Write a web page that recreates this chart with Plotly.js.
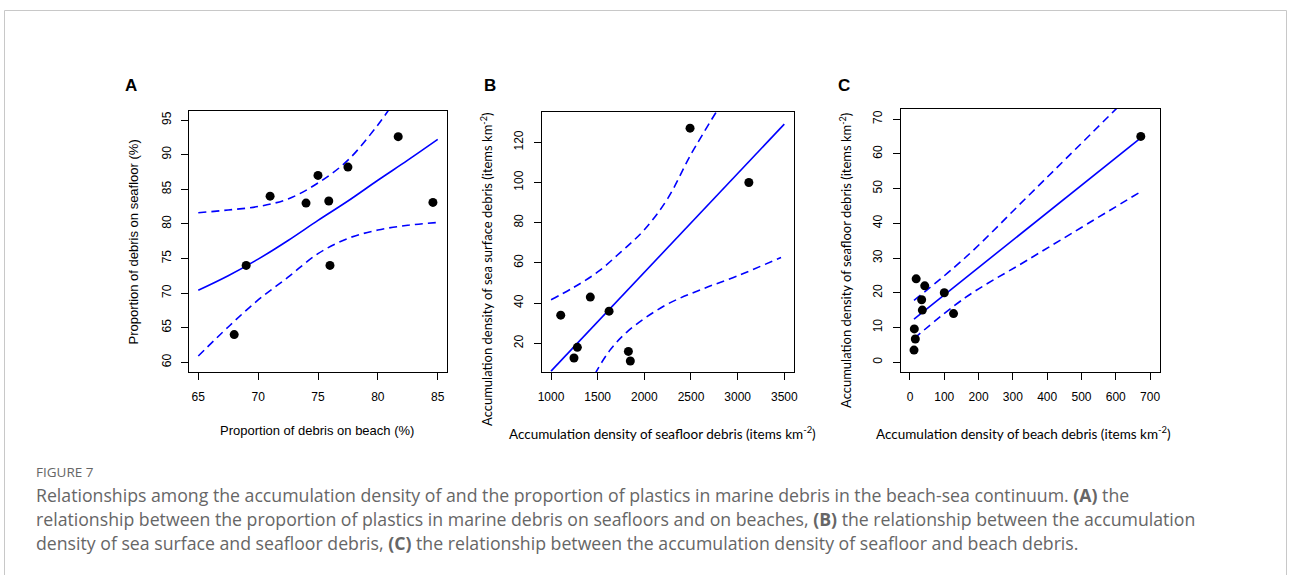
<!DOCTYPE html>
<html>
<head>
<meta charset="utf-8">
<script src="https://cdn.plot.ly/plotly-3.0.1.min.js"></script>
<style>html,body{margin:0;padding:0;background:#fff;}#chart{width:1290px;height:575px;}</style>
</head>
<body>
<div id="chart"></div>
<script>
// ---- Panel A: proportion of plastics (%) ----
const aBeach    = [68, 69, 71, 74, 75, 75.9, 76, 77.5, 81.7, 84.6];
const aSeafloor = [64, 74, 84, 83, 87, 83.3, 74, 88.2, 92.6, 83.1];
const aFitX   = [65, 67.5, 70, 72.5, 75, 77.5, 80, 82.5, 85];
const aFitY   = [70.4, 72.5, 74.9, 77.6, 80.5, 83.3, 86.3, 89.2, 92.2];
const aUpperX = [65, 67.5, 70, 72.5, 75, 77.5, 80, 81];
const aUpperY = [81.6, 82.0, 82.5, 83.6, 85.9, 89.2, 94.3, 96.7];
const aLowerX = [65, 67.5, 70, 72.5, 75, 77.5, 80, 82.5, 85];
const aLowerY = [60.9, 65.1, 69.0, 72.3, 75.7, 77.9, 79.1, 79.8, 80.2];
const aXTicks = [65, 70, 75, 80, 85];
const aYTicks = [60, 65, 70, 75, 80, 85, 90, 95];

// ---- Panel B: sea surface vs seafloor density ----
const bSeafloor = [1104, 1246, 1282, 1421, 1622, 1829, 1850, 2490, 3120];
const bSurface  = [34, 12.7, 18, 43, 36, 16, 11.2, 127, 100];
const bFitX   = [1000, 3500];
const bFitY   = [6.2, 129];
const bUpperX = [1000, 1250, 1500, 1750, 2000, 2250, 2500, 2770];
const bUpperY = [41.7, 48, 55.5, 65.5, 76.5, 92, 114, 135];
const bLowerX = [1470, 1630, 1830, 2220, 2600, 3000, 3465];
const bLowerY = [4.7, 16.5, 26.3, 38.8, 46.6, 53.6, 62.7];
const bXTicks = [1000, 1500, 2000, 2500, 3000, 3500];
const bYTicks = [20, 40, 60, 80, 100, 120];

// ---- Panel C: seafloor vs beach density ----
const cBeach    = [18, 43, 34, 36, 100, 127, 12.6, 15.5, 11.7, 673];
const cSeafloor = [24, 22, 18, 15, 20, 14, 9.6, 6.7, 3.5, 65];
const cFitX   = [11.7, 673];
const cFitY   = [12.4, 64.6];
const cUpperX = [11.7, 160, 344, 610];
const cUpperY = [17.8, 30.0, 47.8, 73.8];
const cLowerX = [11.7, 160, 344, 673];
const cLowerY = [6.8, 18.5, 29.5, 49.1];
const cXTicks = [0, 100, 200, 300, 400, 500, 600, 700];
const cYTicks = [0, 10, 20, 30, 40, 50, 60, 70];

const W = 1290, H = 575;
const px = x => x / W;
const py = y => 1 - y / H;
const BLUE = '#0000ff';
const TICKFONT = {family: 'Liberation Sans, Arial, sans-serif', size: 12, color: '#000'};

function panelTraces(xa, ya, ptsX, ptsY, fx, fy, ux, uy, lx, ly) {
  return [
    {x: fx, y: fy, xaxis: xa, yaxis: ya, type: 'scatter', mode: 'lines', line: {color: BLUE, width: 1.6}, hoverinfo: 'skip'},
    {x: ux, y: uy, xaxis: xa, yaxis: ya, type: 'scatter', mode: 'lines', line: {color: BLUE, width: 1.6, dash: '8px,5px', shape: 'spline'}, hoverinfo: 'skip'},
    {x: lx, y: ly, xaxis: xa, yaxis: ya, type: 'scatter', mode: 'lines', line: {color: BLUE, width: 1.6, dash: '8px,5px', shape: 'spline'}, hoverinfo: 'skip'},
    {x: ptsX, y: ptsY, xaxis: xa, yaxis: ya, type: 'scatter', mode: 'markers', marker: {color: '#000', size: 9}, cliponaxis: false}
  ];
}

const data = [].concat(
  panelTraces('x', 'y', aBeach, aSeafloor, aFitX, aFitY, aUpperX, aUpperY, aLowerX, aLowerY),
  panelTraces('x2', 'y2', bSeafloor, bSurface, bFitX, bFitY, bUpperX, bUpperY, bLowerX, bLowerY),
  panelTraces('x3', 'y3', cBeach, cSeafloor, cFitX, cFitY, cUpperX, cUpperY, cLowerX, cLowerY)
);
data[0].line.shape = 'spline';

function axis(domain, range, ticks, anchor, isY) {
  return {
    domain: domain, range: range, anchor: anchor,
    showline: true, linecolor: '#000', linewidth: 1, mirror: true,
    ticks: 'outside', ticklen: 7, tickcolor: '#000', tickwidth: 1,
    tickmode: 'array', tickvals: ticks, ticktext: ticks.map(String),
    showgrid: false, zeroline: false, tickfont: TICKFONT,
    tickangle: isY ? -90 : 0, ticklabelstandoff: 6,
    fixedrange: true
  };
}

const layout = {
  width: W, height: H,
  margin: {l: 0, r: 0, t: 0, b: 0},
  paper_bgcolor: '#fff', plot_bgcolor: '#fff',
  showlegend: false,
  xaxis:  axis([px(189.3), px(446.7)], [64.25, 85.75], aXTicks, 'y', false),
  yaxis:  axis([py(372.3), py(110.7)], [58.55, 96.35], aYTicks, 'x', true),
  xaxis2: axis([px(541.7), px(794)], [900, 3604], bXTicks, 'y2', false),
  yaxis2: axis([py(372.3), py(112.3)], [5.6, 134.9], bYTicks, 'x2', true),
  xaxis3: axis([px(900.7), px(1160)], [-27.1, 729], cXTicks, 'y3', false),
  yaxis3: axis([py(372.3), py(109)], [-2.9, 72.9], cYTicks, 'x3', true),
  shapes: [
    {type: 'rect', xref: 'paper', yref: 'paper', x0: px(4.5), x1: px(1286.5), y0: py(600), y1: py(10.5),
     line: {color: '#c8c8c8', width: 1}, fillcolor: 'rgba(0,0,0,0)', layer: 'below'}
  ],
  annotations: []
};

const AF = 'Liberation Sans, Arial, sans-serif';
const LF = 'Lato, Carlito, sans-serif';
function ann(text, x, y, opts) {
  return Object.assign({text: text, x: px(x), y: py(y), xref: 'paper', yref: 'paper', showarrow: false,
    xanchor: 'center', yanchor: 'middle', font: {family: AF, size: 13, color: '#000'}}, opts || {});
}
const TF = {family: LF, size: 13.5, color: '#000'};
const TFY = {family: LF, size: 13, color: '#000'};
layout.annotations.push(
  ann('<b>A</b>', 130.5, 85, {font: {family: AF, size: 17, color: '#000'}}),
  ann('<b>B</b>', 490, 85, {font: {family: AF, size: 17, color: '#000'}}),
  ann('<b>C</b>', 843.5, 85, {font: {family: AF, size: 17, color: '#000'}}),
  ann('Proportion of debris on beach (%)', 317, 430),
  ann('Proportion of debris on seafloor (%)', 133, 242.5, {textangle: -90}),
  ann('Accumulation density of seafloor debris (items km<sup>-2</sup>)', 662, 433, {font: TF}),
  ann('Accumulation density of sea surface debris (items km<sup>-2</sup>)', 486, 270, {textangle: -90, font: TFY}),
  ann('Accumulation density of beach debris (items km<sup>-2</sup>)', 1023, 433, {font: TF}),
  ann('Accumulation density of seafloor debris (items km<sup>-2</sup>)', 845, 261, {textangle: -90, font: TFY})
);

const CF = {family: 'Open Sans, sans-serif', size: 17.7, color: '#666'};
const CX = 34;
layout.annotations.push(
  ann('FIGURE 7', CX, 472, {xanchor: 'left', font: {family: 'Open Sans, sans-serif', size: 13.5, color: '#666'}}),
  ann('Relationships among the accumulation density of and the proportion of plastics in marine debris in the beach-sea continuum. <b>(A)</b> the', CX, 495, {xanchor: 'left', font: CF}),
  ann('relationship between the proportion of plastics in marine debris on seafloors and on beaches, <b>(B)</b> the relationship between the accumulation', CX, 519, {xanchor: 'left', font: CF}),
  ann('density of sea surface and seafloor debris, <b>(C)</b> the relationship between the accumulation density of seafloor and beach debris.', CX, 543, {xanchor: 'left', font: CF})
);

Plotly.newPlot('chart', data, layout, {staticPlot: true, displayModeBar: false});
</script>
</body>
</html>
